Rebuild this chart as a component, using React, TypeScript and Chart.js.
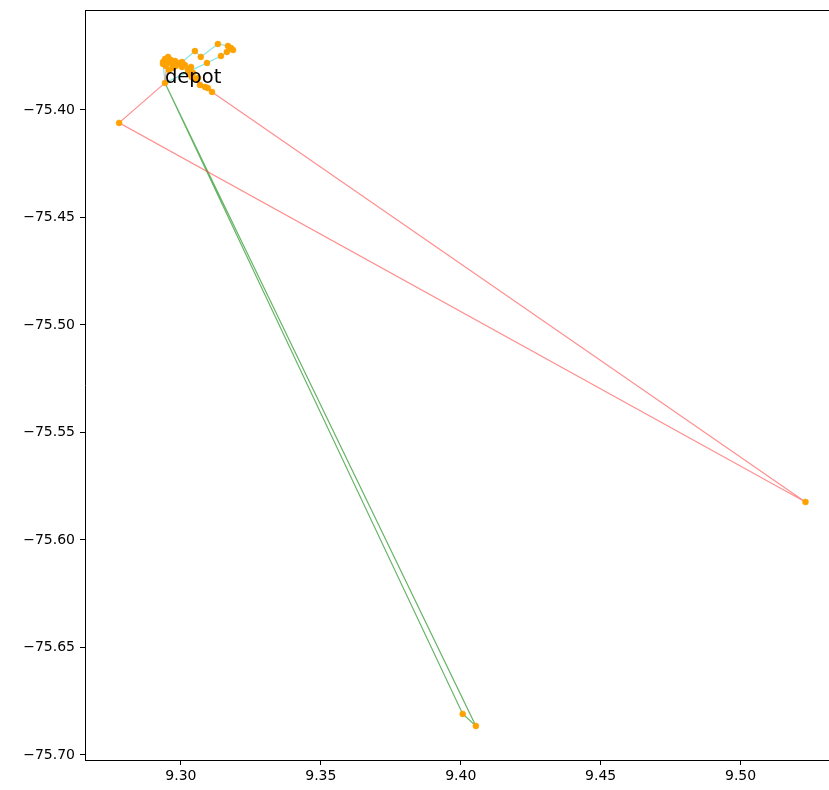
import React, { useEffect, useRef } from "react";
import { Chart, registerables } from "chart.js";

Chart.register(...registerables);

// Depot location
const depotX = 9.2943;
const depotY = -75.3874;
const depotLabel = "depot";

// Route 1 (red)
const redRouteX = [9.2779, 9.5232, 9.3111, 9.3096, 9.3086, 9.3068, 9.3061, 9.3050, 9.3039, 9.3043, 9.3032, 9.3025, 9.3036, 9.3014, 9.3004, 9.2996, 9.2982, 9.2971, 9.2957, 9.2946, 9.2936, 9.2943, 9.2954, 9.2964, 9.2979, 9.2968, 9.2950];
const redRouteY = [-75.406, -75.5823, -75.3916, -75.3898, -75.3893, -75.3884, -75.3851, -75.3856, -75.3847, -75.3828, -75.3833, -75.3814, -75.38, -75.3791, -75.3800, -75.3781, -75.3795, -75.3805, -75.3814, -75.3795, -75.3786, -75.3763, -75.3753, -75.3767, -75.3772, -75.3786, -75.3781];

// Route 2 (green)
const greenRouteX = [9.4054, 9.4007];
const greenRouteY = [-75.6865, -75.6809];

// Route 3 (cyan)
const cyanRouteX = [9.2936, 9.295, 9.3004, 9.305, 9.3071, 9.3132, 9.3168, 9.3179, 9.3186, 9.3164, 9.3143, 9.3093];
const cyanRouteY = [-75.3777, -75.3767, -75.3777, -75.3726, -75.3753, -75.3693, -75.3702, -75.3712, -75.3721, -75.373, -75.3749, -75.3781];

// Axis ticks and limits
const xTicks = [9.3, 9.35, 9.4, 9.45, 9.5];
const yTicks = [-75.7, -75.65, -75.6, -75.55, -75.5, -75.45, -75.4];
const xMin = 9.26571;
const xMax = 9.53;
const yMin = -75.70233;
const yMax = -75.35349;

function routeData(xs: number[], ys: number[]) {
  const pts = [{ x: depotX, y: depotY }];
  xs.forEach((x, i) => pts.push({ x, y: ys[i] }));
  pts.push({ x: depotX, y: depotY });
  return pts;
}

function fmt(v: number) {
  return v.toFixed(2).replace("-", "\u2212");
}

export default function App() {
  const ref = useRef<HTMLCanvasElement | null>(null);

  useEffect(() => {
    if (!ref.current) return;
    const allPts = [
      { x: depotX, y: depotY },
      ...redRouteX.map((x, i) => ({ x, y: redRouteY[i] })),
      ...greenRouteX.map((x, i) => ({ x, y: greenRouteY[i] })),
      ...cyanRouteX.map((x, i) => ({ x, y: cyanRouteY[i] })),
    ];

    const framePlugin = {
      id: "frameAndLabel",
      afterDatasetsDraw(chart: any) {
        const ctx = chart.ctx;
        const { left, top, bottom } = chart.chartArea;
        const fullRight = chart.width;
        ctx.save();
        ctx.strokeStyle = "#000";
        ctx.lineWidth = 1;
        ctx.beginPath();
        ctx.moveTo(left, top + 0.5);
        ctx.lineTo(fullRight, top + 0.5);
        ctx.moveTo(left, bottom + 0.5);
        ctx.lineTo(fullRight, bottom + 0.5);
        ctx.stroke();
        const px = chart.scales.x.getPixelForValue(depotX);
        const py = chart.scales.y.getPixelForValue(depotY);
        ctx.fillStyle = "#000";
        ctx.font = "19.5px 'DejaVu Sans'";
        ctx.textAlign = "left";
        ctx.textBaseline = "alphabetic";
        ctx.fillText(depotLabel, px, py);
        ctx.restore();
      },
    };

    const lineDs = (data: any[], color: string) => ({
      type: "line" as const,
      data,
      borderColor: color,
      borderWidth: 1.2,
      pointRadius: 0,
      fill: false,
      tension: 0,
      showLine: true,
      order: 2,
    });

    const chart = new Chart(ref.current, {
      type: "scatter",
      data: {
        datasets: [
          lineDs(routeData(redRouteX, redRouteY), "rgba(255,70,70,0.6)"),
          lineDs(routeData(greenRouteX, greenRouteY), "rgba(0,130,0,0.6)"),
          lineDs(routeData(cyanRouteX, cyanRouteY), "rgba(0,200,200,0.45)"),
          {
            type: "scatter" as const,
            data: allPts,
            backgroundColor: "#ffa200",
            borderColor: "#f7a000",
            borderWidth: 0.5,
            pointRadius: 3,
            order: 1,
          } as any,
        ],
      },
      options: {
        responsive: false,
        animation: false,
        devicePixelRatio: 1,
        layout: { padding: { top: 10, left: 0, right: 0, bottom: 0 } },
        plugins: { legend: { display: false }, tooltip: { enabled: false } },
        scales: {
          x: {
            type: "linear",
            min: xMin,
            max: xMax,
            afterBuildTicks: (s: any) => {
              s.ticks = xTicks.map((v) => ({ value: v }));
            },
            afterFit: (s: any) => {
              s.height = 30;
              s.paddingLeft = 0;
              s.paddingRight = 0;
              s.paddingTop = 0;
              s.paddingBottom = 0;
            },
            grid: { drawOnChartArea: false, drawTicks: true, tickLength: 5, color: "#000", lineWidth: 1 },
            border: { display: true, color: "#000", width: 1 },
            ticks: {
              autoSkip: false,
              maxRotation: 0,
              padding: 3,
              color: "#000",
              font: { family: "'DejaVu Sans'", size: 14 },
              callback: (v: any) => Number(v).toFixed(2),
            },
          },
          y: {
            type: "linear",
            min: yMin,
            max: yMax,
            afterBuildTicks: (s: any) => {
              s.ticks = yTicks.map((v) => ({ value: v }));
            },
            afterFit: (s: any) => {
              s.width = 85;
              s.paddingLeft = 0;
              s.paddingRight = 0;
              s.paddingTop = 0;
              s.paddingBottom = 0;
            },
            grid: { drawOnChartArea: false, drawTicks: true, tickLength: 5, color: "#000", lineWidth: 1 },
            border: { display: true, color: "#000", width: 1 },
            ticks: {
              autoSkip: false,
              padding: 5,
              color: "#000",
              font: { family: "'DejaVu Sans'", size: 14 },
              callback: (v: any) => fmt(Number(v)),
            },
          },
        },
      } as any,
      plugins: [framePlugin],
    });
    return () => chart.destroy();
  }, []);

  return (
    <div style={{ position: "fixed", left: 0, top: 0, width: 829, height: 790, background: "#fff" }}>
      <canvas ref={ref} width={829} height={790} style={{ display: "block" }} />
    </div>
  );
}
